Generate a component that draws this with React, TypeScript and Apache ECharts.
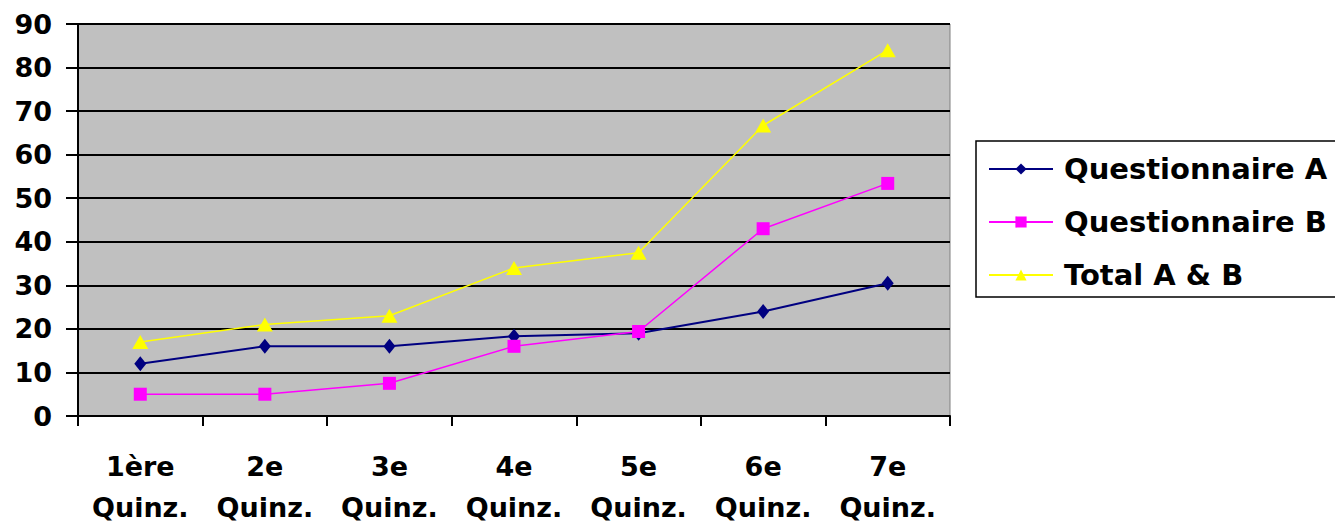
import React, { useEffect, useRef } from "react";
import * as echarts from "echarts";

const categories = [
  "1ère\nQuinz.",
  "2e\nQuinz.",
  "3e\nQuinz.",
  "4e\nQuinz.",
  "5e\nQuinz.",
  "6e\nQuinz.",
  "7e\nQuinz.",
];
const questionnaireA = [12, 16, 16, 18.3, 19, 24, 30.5];
const questionnaireB = [5, 5, 7.5, 16, 19.4, 43, 53.4];
const totalAB = [17, 21, 23, 34, 37.5, 66.7, 84];
const yTicks = { min: 0, max: 90, interval: 10 };

const FONT = "'DejaVu Sans', 'Liberation Sans', Arial, sans-serif";

export default function App() {
  const ref = useRef<HTMLDivElement>(null);
  useEffect(() => {
    if (!ref.current) return;
    const chart = echarts.init(ref.current, undefined, { renderer: "svg" });
    chart.setOption({
      animation: false,
      backgroundColor: "#ffffff",
      grid: {
        left: 78,
        top: 24,
        right: 385,
        bottom: 106,
        outerBoundsMode: "none",
        containLabel: false,
        show: true,
        backgroundColor: "#C0C0C0",
        borderColor: "#808080",
        borderWidth: 1,
      },
      legend: {
        orient: "vertical",
        left: 976,
        top: 141,
        padding: [13, 12, 7, 12],
        itemGap: 23,
        itemWidth: 64,
        itemHeight: 14,
        borderColor: "#000000",
        borderWidth: 1.5,
        backgroundColor: "#ffffff",
        textStyle: {
          fontFamily: FONT,
          fontWeight: "bold",
          fontSize: 29,
          lineHeight: 30,
          color: "#000000",
          padding: [0, 0, 0, 6],
        },
        data: ["Questionnaire A", "Questionnaire B", "Total A & B"],
      },
      xAxis: {
        type: "category",
        data: categories,
        boundaryGap: true,
        axisLine: { show: true, lineStyle: { color: "#000000", width: 2 } },
        axisTick: { show: true, length: 10, inside: false, lineStyle: { color: "#000000", width: 2 } },
        axisLabel: {
          fontFamily: FONT,
          fontWeight: "bold",
          fontSize: 27,
          lineHeight: 41,
          color: "#000000",
          margin: 30,
          interval: 0,
        },
        splitLine: { show: false },
      },
      yAxis: {
        type: "value",
        min: yTicks.min,
        max: yTicks.max,
        interval: yTicks.interval,
        axisLine: { show: true, lineStyle: { color: "#000000", width: 2 } },
        axisTick: { show: true, length: 12, lineStyle: { color: "#000000", width: 2 } },
        axisLabel: {
          fontFamily: FONT,
          fontWeight: "bold",
          fontSize: 27,
          color: "#000000",
          margin: 26,
        },
        splitLine: { show: true, lineStyle: { color: "#000000", width: 2 } },
      },
      series: [
        {
          name: "Questionnaire A",
          type: "line",
          data: questionnaireA,
          symbol: "diamond",
          symbolSize: [12, 15],
          lineStyle: { color: "#000080", width: 2 },
          itemStyle: { color: "#000080" },
          z: 3,
        },
        {
          name: "Questionnaire B",
          type: "line",
          data: questionnaireB,
          symbol: "rect",
          symbolSize: 13,
          lineStyle: { color: "#FF00FF", width: 1.5 },
          itemStyle: { color: "#FF00FF" },
          z: 4,
        },
        {
          name: "Total A & B",
          type: "line",
          data: totalAB,
          symbol: "triangle",
          symbolSize: [16, 14],
          lineStyle: { color: "#FFFF00", width: 1.5 },
          itemStyle: { color: "#FFFF00" },
          z: 5,
        },
      ],
    });
    return () => chart.dispose();
  }, []);
  return (
    <div
      ref={ref}
      style={{ position: "fixed", left: 0, top: 0, width: 1335, height: 522 }}
    />
  );
}
